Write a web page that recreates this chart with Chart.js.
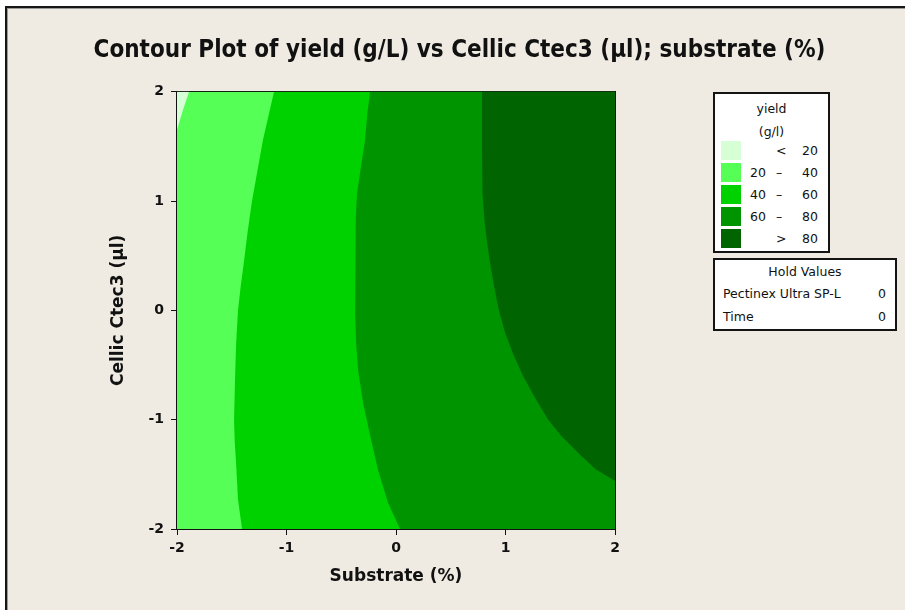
<!DOCTYPE html>
<html>
<head>
<meta charset="utf-8">
<script src="https://cdn.jsdelivr.net/npm/chart.js@4"></script>
<style>
  html, body { margin: 0; padding: 0; background: #ffffff; }
  #wrap { position: relative; width: 905px; height: 610px; overflow: hidden; background: #ffffff; }
  #frame { position: absolute; left: 5px; top: 6px; width: 900px; height: 604px;
           border-left: 2px solid #161616; border-top: 2px solid #161616; box-sizing: border-box; }
  #inner { position: absolute; left: 0; top: 0; right: 0; bottom: 0;
           border-left: 1px solid #9a9a96; border-top: 1px solid #9a9a96; background: #efebe2; }
  canvas { position: absolute; left: 0; top: 0; }
  .box { position: absolute; background: #ffffff; border: 2px solid #141414; box-sizing: border-box;
         font-family: 'DejaVu Sans', sans-serif; font-size: 12.5px; color: #111; }
  .ltitle { position: absolute; left: 0; width: 100%; text-align: center; line-height: 14px; }
  .sw { position: absolute; left: 6px; width: 20px; height: 19px; }
  .lo, .sym, .hi, .hl, .hv { position: absolute; line-height: 14px; }
</style>
</head>
<body>
<div id="wrap">
  <div id="frame"><div id="inner"></div></div>
  <canvas id="c" width="905" height="610"></canvas>
  <div class="box" id="legend1" style="left:713px; top:92px; width:117px; height:161px;"></div>
  <div class="box" id="legend2" style="left:713px; top:258px; width:184px; height:73px;"></div>
</div>
<script>
// ---- data ----
const xRange = [-2, 2];
const yRange = [-2, 2];
const tickValues = [-2, -1, 0, 1, 2];

const levelBreaks = [20, 40, 60, 80];
const levelColors = ['#d6ffd6', '#55ff55', '#00d200', '#009400', '#006400'];

// contour boundary yield = 20 (top-left corner)
const bound20X = [-1.89, -1.95, -2.0];
const bound20Y = [2.0, 1.82, 1.65];
// contour boundary yield = 40
const bound40X = [-1.114, -1.16, -1.215, -1.265, -1.315, -1.355, -1.388, -1.418, -1.443, -1.460, -1.470, -1.479, -1.473, -1.461, -1.443, -1.406];
const bound40Y = [2.0, 1.8, 1.56, 1.28, 1.0, 0.72, 0.45, 0.22, 0.0, -0.3, -0.63, -1.0, -1.2, -1.39, -1.73, -2.0];
// contour boundary yield = 60
const bound60X = [-0.237, -0.262, -0.283, -0.322, -0.356, -0.368, -0.374, -0.374, -0.364, -0.347, -0.300, -0.237, -0.164, -0.073, 0.037];
const bound60Y = [2.0, 1.8, 1.56, 1.30, 1.07, 0.84, 0.61, -0.04, -0.30, -0.54, -0.85, -1.14, -1.46, -1.76, -2.0];
// contour boundary yield = 80
const bound80X = [0.785, 0.785, 0.79, 0.81, 0.835, 0.865, 0.90, 0.94, 0.995, 1.07, 1.16, 1.27, 1.39, 1.51, 1.66, 1.82, 2.0];
const bound80Y = [2.0, 1.5, 1.07, 0.8, 0.6, 0.4, 0.2, 0.0, -0.2, -0.4, -0.6, -0.8, -1.0, -1.15, -1.3, -1.45, -1.56];

const holdNames = ['Pectinex Ultra SP-L', 'Time'];
const holdValues = [0, 0];

const chartTitle = 'Contour Plot of yield (g/L) vs Cellic Ctec3 (µl); substrate (%)';
const xTitle = 'Substrate (%)';
const yTitle = 'Cellic Ctec3 (µl)';
const legendTitle = ['yield', '(g/l)'];

// ---- build polygons from the boundaries ----
function pts(xs, ys) { return xs.map((x, i) => ({x: x, y: ys[i]})); }
const xMin = xRange[0], xMax = xRange[1], yMin = yRange[0], yMax = yRange[1];

const polyBase = [{x: xMin, y: yMax}, {x: xMax, y: yMax}, {x: xMax, y: yMin}, {x: xMin, y: yMin}];
const polyLow = [{x: xMin, y: yMax}].concat(pts(bound20X, bound20Y));
const poly40 = pts(bound40X, bound40Y).concat([{x: xMax, y: yMin}, {x: xMax, y: yMax}]);
const poly60 = pts(bound60X, bound60Y).concat([{x: xMax, y: yMin}, {x: xMax, y: yMax}]);
const poly80 = pts(bound80X, bound80Y).concat([{x: xMax, y: yMax}]);

function region(data, color, label) {
  return { label: label, data: data, showLine: true, fill: 'shape', backgroundColor: color,
           borderColor: 'rgba(0,0,0,0)', borderWidth: 0, pointRadius: 0, pointHoverRadius: 0, tension: 0 };
}

// index 0 is painted last (on top)
const datasets = [
  region(poly80, levelColors[4], '> 80'),
  region(poly60, levelColors[3], '60 – 80'),
  region(poly40, levelColors[2], '40 – 60'),
  region(polyLow, levelColors[0], '< 20'),
  region(polyBase, levelColors[1], '20 – 40')
];

const tickFont = { family: "'DejaVu Sans', sans-serif", size: 14, weight: 'bold' };
const titleFont = { family: "'DejaVu Sans', sans-serif", size: 17, weight: 'bold', lineHeight: 1.2 };

new Chart(document.getElementById('c'), {
  type: 'scatter',
  data: { datasets: datasets },
  options: {
    responsive: false,
    animation: false,
    events: [],
    devicePixelRatio: 1,
    layout: { padding: { left: 14, right: 0, top: 0, bottom: 21 } },
    plugins: {
      legend: { display: false },
      tooltip: { enabled: false },
      title: {
        display: true, text: chartTitle, color: '#111',
        font: { family: "'DejaVu Sans Condensed', 'DejaVu Sans', sans-serif", size: 24, weight: 'bold', lineHeight: 1.2 },
        padding: { top: 36, bottom: 27 }
      }
    },
    scales: {
      x: {
        type: 'linear', position: 'bottom', min: xMin, max: xMax,
        afterBuildTicks: s => { s.ticks = tickValues.map(v => ({value: v})); },
        afterFit: s => { s.height = 60; },
        ticks: { color: '#111', font: tickFont, padding: 5, maxRotation: 0 },
        grid: { display: true, drawOnChartArea: false, drawTicks: true, tickLength: 6, color: '#111', lineWidth: 1 },
        border: { display: true, color: '#111', width: 2 },
        title: { display: true, text: xTitle, color: '#111', font: titleFont, padding: { top: 0, bottom: 2 } }
      },
      y: {
        type: 'linear', position: 'left', min: yMin, max: yMax,
        afterBuildTicks: s => { s.ticks = tickValues.map(v => ({value: v})); },
        afterFit: s => { s.width = 163; },
        ticks: { color: '#111', font: tickFont, padding: 7 },
        grid: { display: true, drawOnChartArea: false, drawTicks: true, tickLength: 6, color: '#111', lineWidth: 1 },
        border: { display: true, color: '#111', width: 2 },
        title: { display: true, text: yTitle, color: '#111', font: titleFont, padding: { top: 94, bottom: 0 } }
      },
      xTop: {
        type: 'linear', position: 'top', min: xMin, max: xMax,
        afterFit: s => { s.height = 0; },
        ticks: { display: false },
        grid: { display: false },
        border: { display: true, color: '#111', width: 2 }
      },
      yRight: {
        type: 'linear', position: 'right', min: yMin, max: yMax,
        afterFit: s => { s.width = 290; },
        ticks: { display: false },
        grid: { display: false },
        border: { display: true, color: '#111', width: 2 }
      }
    }
  }
});

// ---- legend boxes (real text) ----
const lg = document.getElementById('legend1');
legendTitle.forEach((t, i) => {
  const d = document.createElement('div');
  d.className = 'ltitle'; d.textContent = t; d.style.top = (8 + i * 23) + 'px';
  lg.appendChild(d);
});
for (let i = 0; i <= levelBreaks.length; i++) {
  const top = 47 + i * 22;
  const sw = document.createElement('div');
  sw.className = 'sw'; sw.style.top = top + 'px'; sw.style.background = levelColors[i];
  lg.appendChild(sw);
  let lo = '', sym = '', hi = '';
  if (i === 0) { sym = '<'; hi = levelBreaks[0]; }
  else if (i === levelBreaks.length) { sym = '>'; hi = levelBreaks[i - 1]; }
  else { lo = levelBreaks[i - 1]; sym = '–'; hi = levelBreaks[i]; }
  const ty = (top + 3) + 'px';
  const a = document.createElement('div'); a.className = 'lo'; a.textContent = lo; a.style.left = '35px'; a.style.top = ty;
  const b = document.createElement('div'); b.className = 'sym'; b.textContent = sym; b.style.left = '61px'; b.style.top = ty;
  const c = document.createElement('div'); c.className = 'hi'; c.textContent = hi; c.style.right = '10px'; c.style.top = ty;
  lg.appendChild(a); lg.appendChild(b); lg.appendChild(c);
}
const hv = document.getElementById('legend2');
const ht = document.createElement('div'); ht.className = 'ltitle'; ht.textContent = 'Hold Values'; ht.style.top = '5px';
hv.appendChild(ht);
holdNames.forEach((n, i) => {
  const top = (27 + i * 23) + 'px';
  const a = document.createElement('div'); a.className = 'hl'; a.textContent = n; a.style.left = '8px'; a.style.top = top;
  const b = document.createElement('div'); b.className = 'hv'; b.textContent = holdValues[i]; b.style.right = '9px'; b.style.top = top;
  hv.appendChild(a); hv.appendChild(b);
});
</script>
</body>
</html>
